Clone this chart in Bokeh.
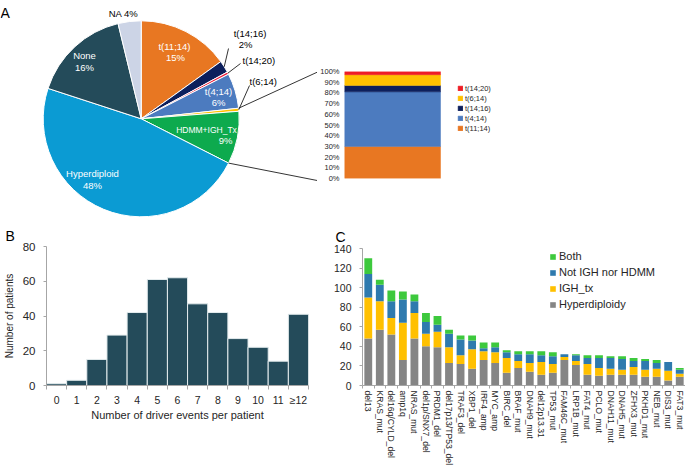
import numpy as np
from bokeh.plotting import figure
from bokeh.layouts import row, column
from bokeh.models import (Range1d, ColumnDataSource, FixedTicker, Legend,
                          LegendItem)
from bokeh.embed import file_html
from bokeh.resources import INLINE
from bokeh.core.properties import value

FONT = "Liberation Sans"
AX = "#A6A6A6"
TXT = "#262626"

# ---------------- Panel A: pie ----------------
pie_labels = ["t(11;14)", "t(14;16)", "t(14;20)", "t(4;14)", "t(6;14)",
              "HDMM+IGH_Tx", "Hyperdiploid", "None", "NA"]
pie_values = [15.1, 2.0, 0.4, 5.8, 0.5, 8.7, 47.6, 16.2, 3.8]
pie_colors = ["#E87722", "#0D1F5C", "#EE1C3A", "#4C7BBF", "#FFC000",
              "#0DAA4E", "#0B9BD3", "#244B5A", "#CCD4E6"]

# ---------------- Panel A: translocation breakdown ----------------
tx_labels = ["t(11;14)", "t(4;14)", "t(14;16)", "t(6;14)", "t(14;20)"]
tx_values = [30, 51, 6, 10, 3]
tx_colors = ["#E87722", "#4C7BBF", "#0D1F5C", "#FFC000", "#EE1C25"]
pct_ticks = [0, 10, 20, 30, 40, 50, 60, 70, 80, 90, 100]

# ---------------- Panel B ----------------
driver_bins = ["0", "1", "2", "3", "4", "5", "6", "7", "8", "9", "10", "11", "\u226512"]
driver_counts = [1, 3, 15, 29, 42, 61, 62, 47, 42, 27, 22, 14, 41]
b_yticks = [0, 20, 40, 60, 80]

# ---------------- Panel C ----------------
genes = ["del13", "KRAS_mut", "del16q/CYLD_del", "amp1q", "NRAS_mut",
         "del1p/SNX7_del", "PRDM1_del", "del17p13/TP53_del", "TRAF3_del",
         "XBP1_del", "IRF4_amp", "MYC_amp", "BIRC_del", "BRAF_mut",
         "DNAH9_mut", "del12p13.31", "TP53_mut", "FAM46C_mut", "LRP1B_mut",
         "FAT4_mut", "PCLO_mut", "DNAH11_mut", "DNAH5_mut", "ZFHX3_mut",
         "PKHD1_mut", "NEB_mut", "DIS3_mut", "FAT3_mut"]
hyperdiploidy = [48, 57, 52, 26, 48, 40, 39, 23, 22, 17, 26, 23, 13, 18,
                 14, 11, 13, 26, 21, 11, 10, 11, 11, 11, 9, 9, 5, 9]
igh_tx = [42, 29, 17, 38, 26, 13, 16, 16, 9, 20, 9, 11, 15, 7,
          9, 13, 9, 3, 4, 11, 8, 6, 5, 8, 7, 8, 10, 3]
not_igh_hdmm = [24, 17, 17, 24, 12, 12, 7, 14, 16, 9, 3, 5, 6, 7,
                9, 7, 8, 3, 6, 6, 10, 11, 11, 6, 9, 6, 9, 4]
both = [16, 5, 11, 8, 7, 9, 9, 4, 4, 5, 6, 5, 2, 3,
        3, 4, 4, 0, 1, 3, 3, 2, 3, 3, 2, 3, 0, 2]
c_series = ["Hyperdiploidy", "IGH_tx", "Not IGH nor HDMM", "Both"]
c_colors = ["#858585", "#FFC000", "#2E7AAE", "#3DC93D"]
c_yticks = [0, 20, 40, 60, 80, 100, 120, 140]


def fig(**kw):
    p = figure(output_backend="svg", toolbar_location=None, frame_align=False, **kw)
    p.outline_line_color = None
    p.grid.visible = False
    p.background_fill_color = "white"
    p.border_fill_color = "white"
    return p


def style_axis(ax, size):
    ax.axis_line_color = AX
    ax.major_tick_line_color = AX
    ax.minor_tick_line_color = None
    ax.major_label_text_font = FONT
    ax.major_label_text_font_size = size
    ax.major_label_text_color = TXT
    ax.axis_label_text_font = FONT
    ax.axis_label_text_font_style = "normal"
    ax.axis_label_text_color = TXT


def panel_title(p, letter, offset, standoff):
    p.title.text = letter
    p.title.align = "left"
    p.title.offset = offset
    p.title.standoff = standoff
    p.title.text_font = FONT
    p.title.text_font_size = "14px"
    p.title.text_font_style = "normal"
    p.title.text_color = "black"


ROW1 = 223
ROW2 = 245

# ======== A1: pie canvas (1 unit = 1 px) ========
WA1 = 317
pA = fig(width=WA1, height=ROW1, x_range=Range1d(0, WA1), y_range=Range1d(0, ROW1),
         min_border=0, x_axis_location=None, y_axis_location=None)

def P(px, py):  # page-pixel layout helper -> canvas units
    return px, ROW1 - py

cx, cy = P(140.7, 118.3)
R = 98
frac = np.array(pie_values) / sum(pie_values)
cum = np.concatenate([[0.0], np.cumsum(frac)])
src_pie = ColumnDataSource(dict(start=np.pi / 2 - 2 * np.pi * cum[:-1],
                                end=np.pi / 2 - 2 * np.pi * cum[1:],
                                color=pie_colors, label=pie_labels))
pA.wedge(x=cx, y=cy, radius=R, start_angle="start", end_angle="end",
         direction="clock", fill_color="color", line_color="white",
         line_width=1, source=src_pie)

def edge(f):
    th = np.pi / 2 - 2 * np.pi * f
    return cx + R * np.cos(th), cy + R * np.sin(th)

# leader lines for small slices
lead = [(1, (228, 48)), (2, (240, 63)), (4, (249, 85))]
x0s, y0s, x1s, y1s = [], [], [], []
for i, pt in lead:
    ex, ey = edge((cum[i] + cum[i + 1]) / 2)
    lx, ly = P(*pt)
    x0s.append(ex); y0s.append(ey); x1s.append(lx); y1s.append(ly)
# connectors to the breakdown bar
for f, pt in [(cum[4], (316.7, 71.7)), (cum[6], (316.7, 180))]:
    ex, ey = edge(f)
    lx, ly = P(*pt)
    x0s.append(ex); y0s.append(ey); x1s.append(lx); y1s.append(ly)
pA.segment(x0=x0s, y0=y0s, x1=x1s, y1=y1s, line_color="black", line_width=0.8)

pct = [f"{round(v)}%" for v in pie_values]
lab_rows = [
    ("t(11;14)", 174, 46, "white", "center", "9.5px"),
    (pct[0], 175, 57, "white", "center", "9.5px"),
    ("None", 84, 55, "white", "center", "9.5px"),
    (pct[7], 84, 67, "white", "center", "9.5px"),
    ("Hyperdiploid", 92, 173, "white", "center", "9.5px"),
    (pct[6], 92, 185, "white", "center", "9.5px"),
    ("t(4;14)", 218, 91, "white", "center", "9.5px"),
    (pct[3], 218, 102, "white", "center", "9.5px"),
    ("HDMM+IGH_Tx", 206, 129, "white", "center", "8.5px"),
    (pct[5], 225, 140, "white", "center", "9.5px"),
    ("NA " + pct[8], 123, 13, "black", "center", "9.5px"),
    ("t(14;16)", 249.5, 32.5, "black", "center", "9.5px"),
    (pct[1], 245, 44, "black", "center", "9.5px"),
    ("t(14;20)", 242, 60, "black", "left", "9.5px"),
    ("t(6;14)", 249, 80.5, "black", "left", "9.5px"),
]
src_lab = ColumnDataSource(dict(
    x=[P(r[1], r[2])[0] for r in lab_rows], y=[P(r[1], r[2])[1] for r in lab_rows],
    text=[r[0] for r in lab_rows], color=[r[3] for r in lab_rows],
    align=[r[4] for r in lab_rows], size=[r[5] for r in lab_rows]))
pA.text(x="x", y="y", text="text", text_color="color", text_align="align",
        text_baseline="middle", text_font=value(FONT), text_font_size="size",
        source=src_lab)
ax_, ay_ = P(0, 12.5)
pA.text(x=[ax_], y=[ay_], text=["A"], text_font=value(FONT), text_font_size="14px",
        text_color="black", text_baseline="alphabetic")

# ======== A2: 100% stacked translocation bar ========
WA2 = 685 - WA1
bar_px = 96.0
frame_w = WA2 - 24
x0 = -(343.3 - 341) / bar_px
pA2 = fig(width=WA2, height=ROW1, x_range=Range1d(x0, x0 + frame_w / bar_px),
          y_range=Range1d(0, 100),
          min_border_left=24, min_border_right=0, min_border_top=71,
          min_border_bottom=45, x_axis_location=None)
src_tx = ColumnDataSource({"x": [0.5], **{l: [v] for l, v in zip(tx_labels, tx_values)}})
rs = pA2.vbar_stack(tx_labels, x="x", width=1, fill_color=tx_colors,
                    line_color=tx_colors, line_width=0.5, source=src_tx)
ya = pA2.yaxis[0]
style_axis(ya, "7.5px")
ya.ticker = FixedTicker(ticks=pct_ticks)
ya.major_label_overrides = {t: f"{t}%" for t in pct_ticks}
ya.axis_line_color = None
ya.major_tick_line_color = None
ya.major_tick_out = 0
ya.major_tick_in = 0
ya.major_label_standoff = 3
legA = Legend(items=[LegendItem(label=tx_labels[i], renderers=[rs[i]])
                     for i in reversed(range(len(tx_labels)))],
              location=(115, 45), padding=0, margin=0, spacing=0,
              glyph_width=6, glyph_height=6, label_height=10, label_standoff=2,
              label_text_font=FONT, label_text_font_size="7.5px",
              label_text_color=TXT, border_line_color=None,
              background_fill_alpha=0)
pA2.add_layout(legA)

# ======== B: histogram ========
xb = list(range(len(driver_bins)))
pB = fig(width=330, height=ROW2, x_range=Range1d(-0.5, len(xb) - 0.5),
         y_range=Range1d(0, 80), min_border_left=43, min_border_right=22,
         min_border_top=22, min_border_bottom=83)
pB.vbar(x=xb, top=driver_counts, width=1, fill_color="#244B5A",
        line_color="#E4ECEE", line_width=1)
xa = pB.xaxis[0]
style_axis(xa, "10.5px")
xa.ticker = FixedTicker(ticks=xb, minor_ticks=[i - 0.5 for i in range(len(xb) + 1)])
xa.major_label_overrides = {i: l for i, l in zip(xb, driver_bins)}
xa.major_tick_line_color = None
xa.major_tick_out = 0
xa.major_tick_in = 0
xa.minor_tick_line_color = AX
xa.minor_tick_out = 4
xa.minor_tick_in = 0
xa.major_label_standoff = 4
xa.axis_label = "Number of driver events per patient"
xa.axis_label_text_font_size = "11px"
xa.axis_label_standoff = 0
yb = pB.yaxis[0]
style_axis(yb, "11.5px")
yb.ticker = FixedTicker(ticks=b_yticks)
yb.major_tick_out = 3
yb.major_tick_in = 0
yb.major_label_standoff = 8
yb.axis_label = "Number of patients"
yb.axis_label_text_font_size = "10px"
yb.axis_label_standoff = 5
panel_title(pB, "B", -41, 5)

# ======== C: stacked driver bars ========
xc = list(range(len(genes)))
pC = fig(width=685 - 330, height=ROW2, x_range=Range1d(-0.5, len(xc) - 0.5),
         y_range=Range1d(0, 140), min_border_left=29, min_border_right=0,
         min_border_top=25, min_border_bottom=80)
src_c = ColumnDataSource(dict(x=xc, gene=genes, Hyperdiploidy=hyperdiploidy,
                              IGH_tx=igh_tx, **{"Not IGH nor HDMM": not_igh_hdmm},
                              Both=both))
rc = pC.vbar_stack(c_series, x="x", width=0.68, fill_color=c_colors,
                   line_color=None, source=src_c)
xca = pC.xaxis[0]
style_axis(xca, "8.6px")
xca.ticker = FixedTicker(ticks=xc, minor_ticks=[i - 0.5 for i in range(len(xc) + 1)])
xca.major_label_overrides = {i: g for i, g in zip(xc, genes)}
xca.major_label_orientation = "vertical"
xca.major_tick_line_color = None
xca.major_tick_out = 0
xca.major_tick_in = 0
xca.minor_tick_line_color = AX
xca.minor_tick_out = 3
xca.minor_tick_in = 0
xca.major_label_standoff = 2
yca = pC.yaxis[0]
style_axis(yca, "10.5px")
yca.ticker = FixedTicker(ticks=c_yticks)
yca.major_tick_out = 3
yca.major_tick_in = 0
yca.major_label_standoff = 8
legC = Legend(items=[LegendItem(label=c_series[i], renderers=[rc[i]])
                     for i in reversed(range(len(c_series)))],
              location=(187, 73), padding=0, margin=0, spacing=0,
              glyph_width=7, glyph_height=7, label_height=16, label_standoff=3,
              label_text_font=FONT, label_text_font_size="11px",
              label_text_color=TXT, border_line_color=None,
              background_fill_alpha=0)
pC.add_layout(legC)
panel_title(pC, "C", -27, 7)

layout = column(row(pA, pA2), row(pB, pC))
open("out.html", "w").write(file_html(layout, INLINE))
